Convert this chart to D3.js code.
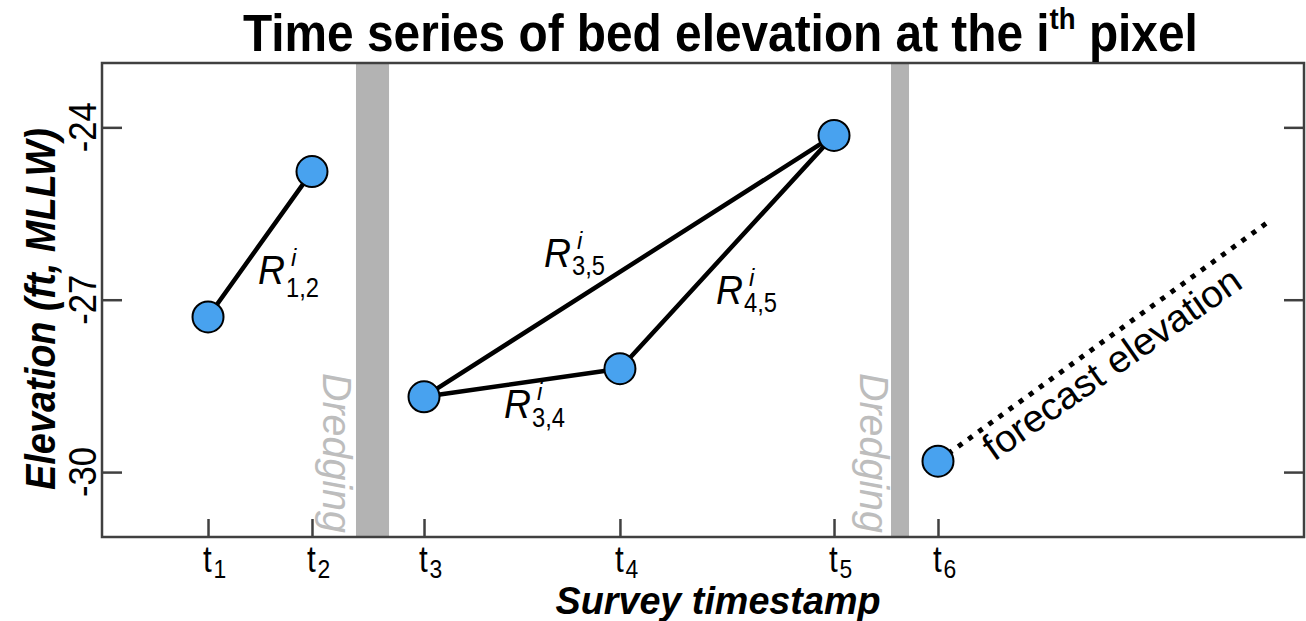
<!DOCTYPE html>
<html><head><meta charset="utf-8">
<script src="https://cdn.jsdelivr.net/npm/d3@7"></script>
<style>body{margin:0;background:#fff} text{font-family:"Liberation Sans",Arial,Helvetica,sans-serif}</style>
</head><body><svg id="c" width="1306" height="621"></svg>
<script>
// ---- data ----
const surveyLabels = ["1","2","3","4","5","6"];
const surveyTimes = [8.82, 17.47, 26.79, 43.09, 60.90, 69.55];
const elevations = [-27.30, -24.77, -28.69, -28.20, -24.14, -29.81];
const rateSegments = [[0,1],[2,3],[3,4],[2,4]];
const rateNames = ["1,2","3,4","4,5","3,5"];
const dredgeStart = [21.13, 65.64];
const dredgeEnd = [23.88, 67.14];
const forecastTime = [69.55, 97.0];
const forecastElev = [-29.81, -25.65];
const yTicks = [-24, -27, -30];
const yTickLabels = ["-24", "-27", "-30"];

// ---- layout ----
const M = {l:102, r:1304, t:63, b:537};
const svg = d3.select("#c");
const x = d3.scaleLinear().domain([0,100]).range([M.l, M.r]);
const y = d3.scaleLinear().domain([-31.13,-22.88]).range([M.b, M.t]);
const axisColor = "#404040";

function fitScale(sel, target){
  return target / sel.node().getComputedTextLength();
}

// dredging bands
const bands = svg.append("g");
dredgeStart.forEach((s,i)=>{
  bands.append("rect").attr("x", x(s)).attr("y", M.t)
    .attr("width", x(dredgeEnd[i]) - x(s)).attr("height", M.b - M.t)
    .attr("fill", "#b3b3b3");
});
// dredging labels
const dredgeLabelPos = [{bx:323, top:373},{bx:860, top:373}];
dredgeLabelPos.forEach(p=>{
  const t = svg.append("text").text("Dredging")
    .attr("font-size", 40).attr("font-style","italic").attr("fill","#bdbdbd");
  const s = fitScale(t, 160);
  t.attr("transform", `translate(${p.bx},${p.top}) rotate(90) scale(${s},1)`);
});

// rate lines
const line = d3.line().x(d=>x(surveyTimes[d])).y(d=>y(elevations[d]));
svg.append("g").selectAll("path").data(rateSegments).join("path")
  .attr("d", d=>line(d)).attr("stroke","#000").attr("stroke-width",4.5)
  .attr("fill","none").attr("stroke-linecap","round");

// forecast dotted line
const fl = d3.line().x((d,i)=>x(forecastTime[i])).y((d,i)=>y(forecastElev[i]));
svg.append("path").attr("d", fl(forecastTime)).attr("stroke","#000")
  .attr("stroke-width",5).attr("stroke-dasharray","5 7.5").attr("fill","none");

// forecast label
{
  const t = svg.append("text").text("forecast elevation").attr("font-size",38).attr("fill","#000");
  const s = fitScale(t, 306);
  t.attr("transform", `translate(994,462) rotate(-35) scale(${s},1)`);
}

// points
svg.append("g").selectAll("circle").data(surveyTimes).join("circle")
  .attr("cx", d=>x(d)).attr("cy", (d,i)=>y(elevations[i])).attr("r", 15.5)
  .attr("fill","#48a2ef").attr("stroke","#000").attr("stroke-width",2);

// rate labels
const rateLabelPos = [{x:258,y:284,so:13},{x:504,y:418,so:9},{x:716,y:304,so:8},{x:544,y:267,so:8}];
rateNames.forEach((nm,i)=>{
  const p = rateLabelPos[i];
  const g = svg.append("g").attr("transform",`translate(${p.x},${p.y})`);
  const R = g.append("text").text("R").attr("font-size",40).attr("font-style","italic");
  const rs = fitScale(R, 27);
  R.attr("transform",`scale(${rs},1)`);
  g.append("text").text("i").attr("x",33).attr("y",-18).attr("font-size",24).attr("font-style","italic");
  const sub = g.append("text").text(nm).attr("font-size",27);
  const ss = fitScale(sub, 33);
  sub.attr("transform",`translate(28,${p.so}) scale(${ss},1)`);
});

// axes / box
svg.append("rect").attr("x",M.l).attr("y",M.t).attr("width",M.r-M.l).attr("height",M.b-M.t)
  .attr("fill","none").attr("stroke",axisColor).attr("stroke-width",2.5);
const gl = svg.append("g").attr("transform",`translate(${M.l},0)`)
  .call(d3.axisLeft(y).tickValues(yTicks).tickSize(-20).tickSizeOuter(0).tickFormat(""));
const gr = svg.append("g").attr("transform",`translate(${M.r},0)`)
  .call(d3.axisRight(y).tickValues(yTicks).tickSize(-20).tickSizeOuter(0).tickFormat(""));
const gb = svg.append("g").attr("transform",`translate(0,${M.b})`)
  .call(d3.axisBottom(x).tickValues(surveyTimes).tickSize(-18).tickSizeOuter(0).tickFormat(""));
[gl,gr,gb].forEach(g=>{
  g.select(".domain").remove();
  g.selectAll(".tick line").attr("stroke",axisColor).attr("stroke-width",2.5);
});

// y tick labels
yTicks.forEach((v,i)=>{
  const t = svg.append("text").text(yTickLabels[i]).attr("font-size",38)
    .attr("text-anchor","middle").attr("fill","#000");
  const s = fitScale(t, 50);
  t.attr("transform",`translate(96,${y(v)}) rotate(-90) scale(${s},1)`);
});

// x tick labels
surveyTimes.forEach((v,i)=>{
  const g = svg.append("g").attr("transform",`translate(${x(v)-5},572)`);
  g.append("text").text("t").attr("font-size",37).attr("transform","scale(0.85,1)");
  g.append("text").text(surveyLabels[i]).attr("x",12).attr("y",6).attr("font-size",26)
    .attr("transform","scale(0.88,1)");
});

// title
{
  const t = svg.append("text").attr("font-size",52).attr("font-weight","bold").attr("fill","#000");
  t.append("tspan").text("Time series of bed elevation at the i");
  t.append("tspan").text("th").attr("font-size",30).attr("dy",-22);
  t.append("tspan").text(" pixel").attr("dy",22);
  const s = fitScale(t, 955);
  t.attr("transform",`translate(243,51) scale(${s},1)`);
}
// y axis label
{
  const t = svg.append("text").text("Elevation (ft, MLLW)").attr("font-size",42)
    .attr("font-weight","bold").attr("font-style","italic").attr("text-anchor","middle");
  const s = fitScale(t, 362);
  t.attr("transform",`translate(55,309) rotate(-90) scale(${s},1)`);
}
// x axis label
{
  const t = svg.append("text").text("Survey timestamp").attr("font-size",39)
    .attr("font-weight","bold").attr("font-style","italic").attr("text-anchor","middle");
  const s = fitScale(t, 325);
  t.attr("transform",`translate(718,614) scale(${s},1)`);
}
</script></body></html>
